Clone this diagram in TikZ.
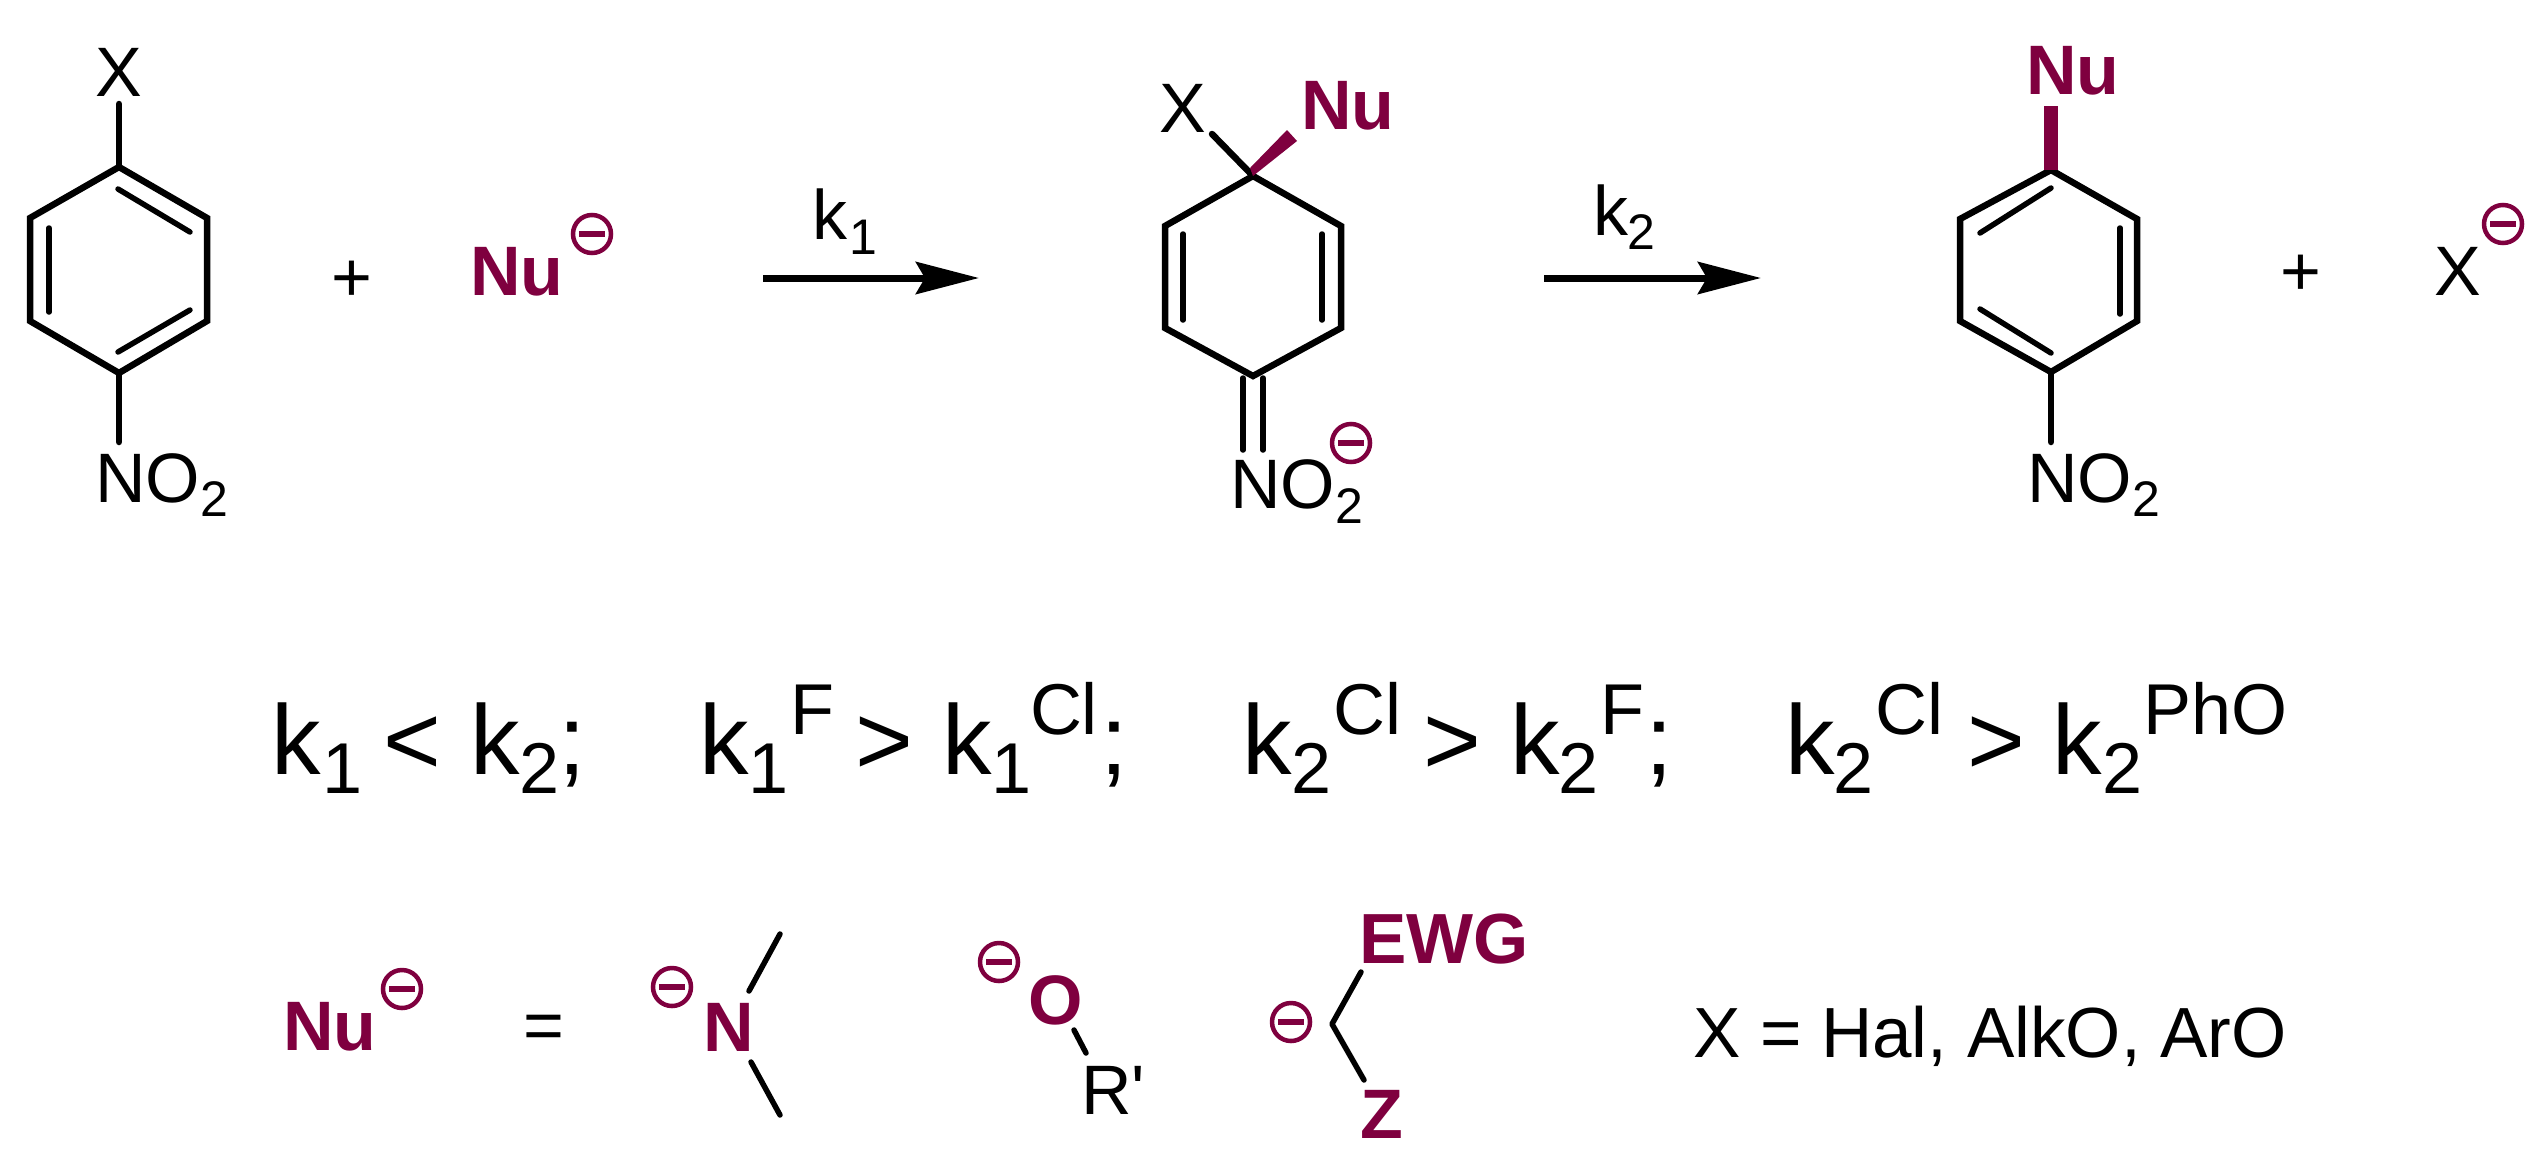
\documentclass[tikz,border=0pt]{standalone}
\usepackage{fontspec}
\setmainfont{Liberation Sans}
\usetikzlibrary{arrows.meta}
\definecolor{nu}{HTML}{7F003F}
\newcommand{\fsz}[1]{\fontsize{#1}{#1}\selectfont}
\newcommand{\NOtwo}[1]{NO{\fsz{50}\raisebox{-#1pt}{2}}}
\tikzset{
  every node/.style={inner sep=0pt,outer sep=0pt,anchor=base west},
  txt/.style={font=\fsz{70}},
  sub/.style={font=\fsz{50}},
  big/.style={font=\fsz{99}},
  mid/.style={font=\fsz{72}},
  bnu/.style={font=\fsz{70}\bfseries,text=nu},
  bond/.style={line width=6.5pt,line cap=round,line join=miter},
  inner/.style={line width=5.5pt,line cap=round},
  thin/.style={line width=5.5pt,line cap=round,line join=round},
  rxn/.style={line width=7pt,-{Stealth[length=63pt,width=32pt,inset=9pt]}},
  chg/.style={circle,draw=nu,line width=4.5pt,minimum size=38pt,anchor=center,
    path picture={\fill[nu] ([xshift=-13pt,yshift=-3.2pt]path picture bounding box.center) rectangle ([xshift=13pt,yshift=3.2pt]path picture bounding box.center);}}
}
\begin{document}
\begin{tikzpicture}[x=1pt,y=-1pt]
\useasboundingbox (0,0) rectangle (2540,1157);
% --- reagent ring
\coordinate (a1) at (119,167); \coordinate (a2) at (207,218); \coordinate (a3) at (207,321);
\coordinate (a4) at (119,373); \coordinate (a5) at (30,321); \coordinate (a6) at (30,218);
\coordinate (ax) at (119,104); \coordinate (an) at (119,442);
\draw[bond] (a1)--(a2)--(a3)--(a4)--(a5)--(a6)--cycle;
\draw[bond] (a1)--(ax); \draw[bond] (a4)--(an);
\coordinate (ai1) at (118,189); \coordinate (ai2) at (190,232);
\coordinate (ai3) at (190,310); \coordinate (ai4) at (118,352);
\coordinate (ai5) at (49,228); \coordinate (ai6) at (49,312);
\draw[inner] (ai1)--(ai2); \draw[inner] (ai3)--(ai4); \draw[inner] (ai5)--(ai6);
\node[txt] (tx1) at (95,96) {X};
\node[txt] (tn1) at (95,502) {\NOtwo{14}};
\node[txt] (plus1) at (331.5,301) {+};
\node[bnu] (nu1) at (470,295) {Nu};
\node[chg] (c1) at (592,234) {};
% --- arrow 1
\coordinate (r1s) at (763,278); \coordinate (r1e) at (979,278);
\draw[rxn] (r1s)--(r1e);
\node[txt] (k1) at (812,239) {k};
\node[sub] (k1s) at (849,254) {1};
% --- intermediate ring
\coordinate (b1) at (1253,176); \coordinate (b2) at (1341,226); \coordinate (b3) at (1341,328);
\coordinate (b4) at (1253,376); \coordinate (b5) at (1165,328); \coordinate (b6) at (1165,226);
\draw[bond] (b1)--(b2)--(b3)--(b4)--(b5)--(b6)--cycle;
\coordinate (bx) at (1212,134);
\draw[bond] (b1)--(bx);
\coordinate (bw0) at (1250,168); \coordinate (bw1) at (1287,130); \coordinate (bw2) at (1297,141);
\fill[nu] (b1)--(bw0)--(bw1)--(bw2)--cycle;
\coordinate (bi1) at (1183,234); \coordinate (bi2) at (1183,320);
\coordinate (bi3) at (1322,234); \coordinate (bi4) at (1322,320);
\draw[inner] (bi1)--(bi2); \draw[inner] (bi3)--(bi4);
\coordinate (bd1) at (1243,378); \coordinate (bd2) at (1243,450);
\coordinate (bd3) at (1263,378); \coordinate (bd4) at (1263,450);
\draw[inner] (bd1)--(bd2); \draw[inner] (bd3)--(bd4);
\node[txt] (tx2) at (1159,132) {X};
\node[bnu] (nu2) at (1301,129) {Nu};
\node[txt] (tn2) at (1230,508) {\NOtwo{15}};
\node[chg] (c2) at (1351,443) {};
% --- arrow 2
\coordinate (r2s) at (1544,278); \coordinate (r2e) at (1761,278);
\draw[rxn] (r2s)--(r2e);
\node[txt] (k2) at (1593,235) {k};
\node[sub] (k2s) at (1627,249) {2};
% --- product ring
\coordinate (d1) at (2051,170); \coordinate (d2) at (2137,219); \coordinate (d3) at (2137,321);
\coordinate (d4) at (2051,372); \coordinate (d5) at (1960,321); \coordinate (d6) at (1960,219);
\draw[bond] (d1)--(d2)--(d3)--(d4)--(d5)--(d6)--cycle;
\coordinate (dt) at (2051,106); \coordinate (dn) at (2051,442);
\draw[nu,line width=14pt] (d1)--(dt);
\draw[bond] (d4)--(dn);
\coordinate (di1) at (2051,188); \coordinate (di2) at (1980,233);
\coordinate (di3) at (2120,228); \coordinate (di4) at (2120,314);
\coordinate (di5) at (1980,309); \coordinate (di6) at (2051,353);
\draw[inner] (di1)--(di2); \draw[inner] (di3)--(di4); \draw[inner] (di5)--(di6);
\node[bnu] (nu3) at (2026,94) {Nu};
\node[txt] (tn3) at (2027,502) {\NOtwo{14}};
\node[txt] (plus2) at (2280,295) {+};
\node[txt] (tx3) at (2434,295) {X};
\node[chg] (c3) at (2503,224) {};
% --- rate relations
\node[big] (e1) at (271,774) {k};
\node[mid] (e2) at (322,793) {1};
\node[big] (e3) at (383,774) {<};
\node[big] (e4) at (470,774) {k};
\node[mid] (e5) at (519,793) {2};
\node[big] (e6) at (558,774) {;};
\node[big] (e7) at (699,774) {k};
\node[mid] (e8) at (748,793) {1};
\node[mid] (e9) at (790,734) {F};
\node[big] (e10) at (855,774) {>};
\node[big] (e11) at (942,774) {k};
\node[mid] (e12) at (991,793) {1};
\node[mid] (e13) at (1030,734) {Cl};
\node[big] (e14) at (1100,774) {;};
\node[big] (e15) at (1242,774) {k};
\node[mid] (e16) at (1291,793) {2};
\node[mid] (e17) at (1333,734) {Cl};
\node[big] (e18) at (1423,774) {>};
\node[big] (e19) at (1510,774) {k};
\node[mid] (e20) at (1558,793) {2};
\node[mid] (e21) at (1600,734) {F};
\node[big] (e22) at (1645,774) {;};
\node[big] (e23) at (1785,774) {k};
\node[mid] (e24) at (1833,793) {2};
\node[mid] (e25) at (1875,734) {Cl};
\node[big] (e26) at (1967,774) {>};
\node[big] (e27) at (2052,774) {k};
\node[mid] (e28) at (2102,793) {2};
\node[mid] (e29) at (2143,734) {PhO};
% --- nucleophiles
\node[bnu] (nu4) at (283,1050) {Nu};
\node[chg] (c4) at (402,989) {};
\node[txt] (eq) at (523.5,1049) {=};
\node[chg] (c5) at (672,987) {};
\node[bnu] (nn) at (703,1051) {N};
\coordinate (n1) at (749,991); \coordinate (n2) at (780,934);
\coordinate (n3) at (751,1062); \coordinate (n4) at (780,1115);
\draw[thin] (n1)--(n2); \draw[thin] (n3)--(n4);
\node[chg] (c6) at (999,962) {};
\node[bnu] (no) at (1028,1024) {O};
\coordinate (o1) at (1074,1030); \coordinate (o2) at (1086,1053);
\draw[thin] (o1)--(o2);
\node[txt] (rp) at (1081,1114) {R\textquotesingle};
\node[chg] (c7) at (1291,1022) {};
\coordinate (z1) at (1361,972); \coordinate (z2) at (1332,1024); \coordinate (z3) at (1364,1080);
\draw[thin] (z1)--(z2)--(z3);
\node[bnu,font=\fsz{71}\bfseries] (ewg) at (1359,963) {EWG};
\node[bnu] (zz) at (1360,1138) {Z};
\node[txt,font=\fsz{71}] (xdef) at (1693,1057) {X = Hal, AlkO, ArO};
\end{tikzpicture}
\end{document}
